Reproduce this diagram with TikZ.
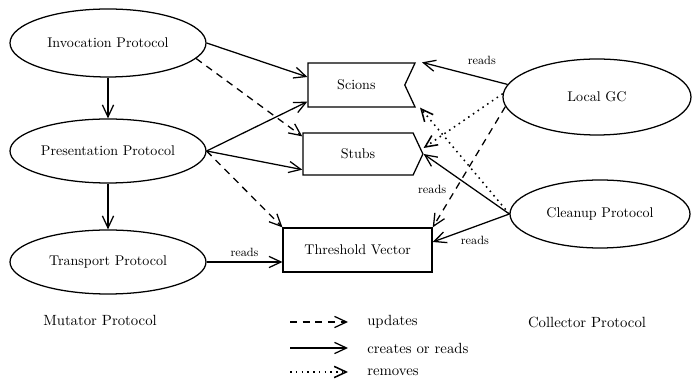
\documentclass[tikz,border=0pt]{standalone}
\usepackage{tikz}
\usetikzlibrary{shapes.geometric, shapes.symbols, arrows.meta, positioning, calc}

\begin{document}
\begin{tikzpicture}[
        proto/.style={draw, line width=0.9pt, ellipse, inner sep=0pt, font=\fontsize{10}{12}\selectfont},
        store/.style={draw, line width=0.9pt, inner sep=0pt, font=\fontsize{10}{12}\selectfont},
        creates/.style={-{Straight Barb[length=3mm, width=2.8mm]}, line width=0.9pt},
        updates/.style={creates, dash pattern=on 5pt off 4pt},
        removes/.style={creates, line width=1.1pt, dash pattern=on 1.1pt off 3pt},
        lbl/.style={font=\fontsize{8.5}{10}\selectfont},
        legtext/.style={anchor=west, inner sep=0pt, font=\fontsize{10.5}{12}\selectfont}
    ]
        \useasboundingbox (0,0) rectangle (17.4,9.5);

        % Mutator side
        \node[proto, minimum width=4.9cm, minimum height=1.7cm] (inv) at (2.7, 8.425) {Invocation Protocol};
        \node[proto, minimum width=4.9cm, minimum height=1.6cm] (pres) at (2.7, 5.725) {Presentation Protocol};
        \node[proto, minimum width=4.9cm, minimum height=1.6cm] (trans) at (2.7, 2.95) {Transport Protocol};
        \node[font=\fontsize{10.5}{12}\selectfont] (mut) at (2.5, 1.5) {Mutator Protocol};

        % Data structures
        \node[store, signal, signal to=nowhere, signal from=east, signal pointer angle=130, minimum width=2.675cm, minimum height=1.1cm] (scions) at (8.91, 7.375) {Scions};
        \node[store, signal, signal to=east, signal pointer angle=130, minimum width=3cm, minimum height=1.05cm] (stubs) at (8.95, 5.65) {Stubs};
        \node[store, minimum width=3.725cm, minimum height=1.1cm] (tv) at (8.94, 3.25) {Threshold Vector};

        % Collector side
        \node[proto, minimum width=4.7cm, minimum height=1.9cm] (lgc) at (14.925, 7.075) {Local GC};
        \node[proto, minimum width=4.5cm, minimum height=1.7cm] (clean) at (15.0, 4.15) {Cleanup Protocol};
        \node[font=\fontsize{10.5}{12}\selectfont] (coll) at (14.675, 1.45) {Collector Protocol};

        % Mutator connections
        \draw[creates] (inv) -- (pres);
        \draw[creates] (pres) -- (trans);
        \draw[creates] (inv.east) -- ([yshift=2mm]scions.west);
        \draw[updates] (inv.-10) -- ([yshift=-1mm]stubs.north west);
        \draw[creates] (pres.east) -- ([yshift=1.5mm]scions.south west);
        \draw[creates] (pres.east) -- ([yshift=1.5mm]stubs.south west);
        \draw[updates] (pres.east) -- (tv.north west);
        \draw[creates] (trans) -- (trans -| tv.west) node[lbl, midway, above] {reads};

        % Collector connections
        \draw[creates] (lgc.172) -- ([xshift=1.5mm]scions.north east) node[lbl, pos=0.3, above=2mm] {reads};
        \draw[removes] (lgc.178) -- ([yshift=1.5mm]stubs.east);
        \draw[updates] (lgc.186) -- (tv.north east);
        \draw[removes] (clean.west) -- ([xshift=1mm]scions.south east);
        \draw[creates] (clean.west) -- (stubs.east) node[lbl, pos=0.9, below=5mm] {reads};
        \draw[creates] (clean.west) -- ([yshift=2mm]tv.east) node[lbl, pos=0.45, below=1mm] {reads};

        % Legend
        \node[legtext] (lupd) at (9.175, 1.45) {updates};
        \node[legtext] (lcrt) at (9.175, 0.8) {creates or reads};
        \node[legtext] (lrmv) at (9.175, 0.2) {removes};
        \draw[updates] ([xshift=-1.925cm]lupd.west) -- ([xshift=-0.475cm]lupd.west);
        \draw[creates] ([xshift=-1.925cm]lcrt.west) -- ([xshift=-0.475cm]lcrt.west);
        \draw[removes] ([xshift=-1.925cm]lrmv.west) -- ([xshift=-0.475cm]lrmv.west);
    \end{tikzpicture}
\end{document}
